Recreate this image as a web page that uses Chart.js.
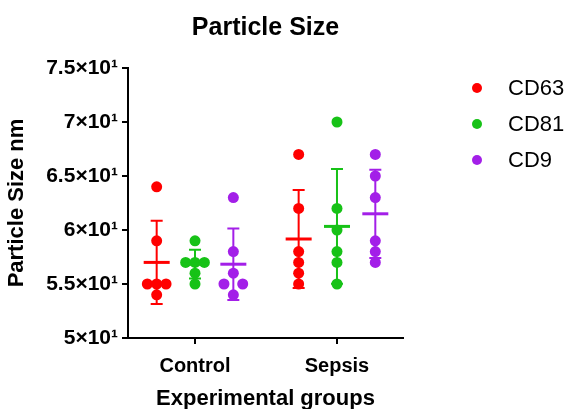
<!DOCTYPE html>
<html>
<head>
<meta charset="utf-8">
<script src="https://cdn.jsdelivr.net/npm/chart.js@4"></script>
<style>
    html, body { margin: 0; padding: 0; background: #fff; }
    #wrap { width: 568px; height: 409px; }
</style>
</head>
<body>
<div id="wrap"><canvas id="particleChart"></canvas></div>
<script>
// values (nm), one list per group: [Control, Sepsis]
const groups = ['Control', 'Sepsis'];
const markers = ['CD63', 'CD81', 'CD9'];
const cd63 = [[64, 59, 55, 55, 55, 54], [67, 62, 58, 57, 56, 55]];
const cd81 = [[59, 57, 57, 57, 56, 55], [70, 62, 60, 58, 57, 55]];
const cd9 = [[63, 58, 56, 55, 55, 54], [67, 65, 63, 59, 58, 57]];
const yTicks = [50, 55, 60, 65, 70, 75];

const seriesValues = [cd63, cd81, cd9];
const colors = ['#ff0000', '#17c217', '#a31fe8'];
const seriesOffset = [-0.27, 0, 0.27];

Chart.defaults.font.family = '"Liberation Sans", Arial, sans-serif';
Chart.defaults.color = '#000';

// place repeated values side by side, like a scatter dot plot
function spread(values, center) {
    const seen = {};
    return values.map(v => {
        const n = values.filter(w => w === v).length;
        seen[v] = seen[v] === undefined ? 0 : seen[v] + 1;
        let k = seen[v] - (n - 1) / 2;
        if (n === 2) k *= 2;
        return { x: center + k * 0.066, y: v };
    });
}

function stats(values) {
    const m = values.reduce((a, b) => a + b, 0) / values.length;
    const v = values.reduce((a, b) => a + (b - m) * (b - m), 0) / (values.length - 1);
    return { mean: m, sd: Math.sqrt(v) };
}

const datasets = markers.map((name, s) => ({
    label: name,
    data: groups.flatMap((g, gi) => spread(seriesValues[s][gi], gi + seriesOffset[s])),
    backgroundColor: colors[s],
    borderWidth: 0,
    pointRadius: 5.5,
    pointHoverRadius: 5.5
}));

// mean +/- SD bars on top of the dots
const errorBars = {
    id: 'errorBars',
    afterDatasetsDraw(chart) {
        const ctx = chart.ctx;
        const xs = chart.scales.x;
        const ys = chart.scales.y;
        ctx.save();
        seriesValues.forEach((series, s) => {
            series.forEach((vals, gi) => {
                const st = stats(vals);
                const px = xs.getPixelForValue(gi + seriesOffset[s]);
                const top = ys.getPixelForValue(st.mean + st.sd);
                const bot = ys.getPixelForValue(st.mean - st.sd);
                const mid = ys.getPixelForValue(st.mean);
                ctx.strokeStyle = colors[s];
                ctx.lineWidth = 2;
                ctx.beginPath();
                ctx.moveTo(px, top); ctx.lineTo(px, bot);
                ctx.moveTo(px - 6, top); ctx.lineTo(px + 6, top);
                ctx.moveTo(px - 6, bot); ctx.lineTo(px + 6, bot);
                ctx.stroke();
                ctx.lineWidth = 3;
                ctx.beginPath();
                ctx.moveTo(px - 13, mid); ctx.lineTo(px + 13, mid);
                ctx.stroke();
            });
        });
        ctx.restore();
    }
};

const dotLegend = {
    id: 'dotLegend',
    afterDraw(chart) {
        const ctx = chart.ctx;
        const area = chart.chartArea;
        ctx.save();
        ctx.font = '22px "Liberation Sans", Arial, sans-serif';
        ctx.textBaseline = 'middle';
        markers.forEach((name, i) => {
            const y = area.top + 20 + i * 36;
            ctx.fillStyle = colors[i];
            ctx.beginPath();
            ctx.arc(area.right + 74, y, 5, 0, Math.PI * 2);
            ctx.fill();
            ctx.fillStyle = '#000';
            ctx.fillText(name, area.right + 105, y + 1);
        });
        ctx.restore();
    }
};

new Chart(document.getElementById('particleChart'), {
    type: 'scatter',
    data: { datasets: datasets },
    plugins: [errorBars, dotLegend],
    options: {
        responsive: true,
        maintainAspectRatio: false,
        animation: false,
        devicePixelRatio: 1,
        layout: { padding: { left: 0, right: 165, top: 0, bottom: 0 } },
        plugins: {
            legend: { display: false },
            tooltip: { enabled: false },
            title: {
                display: true,
                text: 'Particle Size',
                fullSize: false,
                font: { size: 25, weight: 'bold', lineHeight: 1.2 },
                padding: { top: 13, bottom: 25 },
                color: '#000'
            }
        },
        scales: {
            x: {
                type: 'linear',
                min: -0.472,
                max: 1.465,
                afterBuildTicks: scale => { scale.ticks = groups.map((g, i) => ({ value: i })); },
                afterFit: scale => { scale.height = 71; },
                ticks: {
                    callback: v => groups[Math.round(v)],
                    font: { size: 20, weight: 'bold' },
                    color: '#000',
                    padding: 10,
                    maxRotation: 0
                },
                grid: { display: true, drawOnChartArea: false, drawTicks: true, tickLength: 6, color: '#000', lineWidth: 2 },
                border: { display: true, color: '#000', width: 2 },
                title: {
                    display: true,
                    text: 'Experimental groups',
                    font: { size: 22, weight: 'bold', lineHeight: 1 },
                    padding: { top: 0, bottom: -1 },
                    color: '#000'
                }
            },
            y: {
                min: 50,
                max: 75,
                afterBuildTicks: scale => { scale.ticks = yTicks.map(v => ({ value: v })); },
                afterFit: scale => { scale.width = 128; },
                ticks: {
                    callback: v => (v / 10) + '×10¹',
                    font: { size: 21, weight: 'bold' },
                    color: '#000',
                    padding: 4
                },
                grid: { display: true, drawOnChartArea: false, drawTicks: true, tickLength: 6, color: '#000', lineWidth: 2 },
                border: { display: true, color: '#000', width: 2 },
                title: {
                    display: true,
                    text: 'Particle Size nm',
                    font: { size: 22, weight: 'bold', lineHeight: 1.2 },
                    padding: { top: 4, bottom: 0 },
                    color: '#000'
                }
            }
        }
    }
});
</script>
</body>
</html>
